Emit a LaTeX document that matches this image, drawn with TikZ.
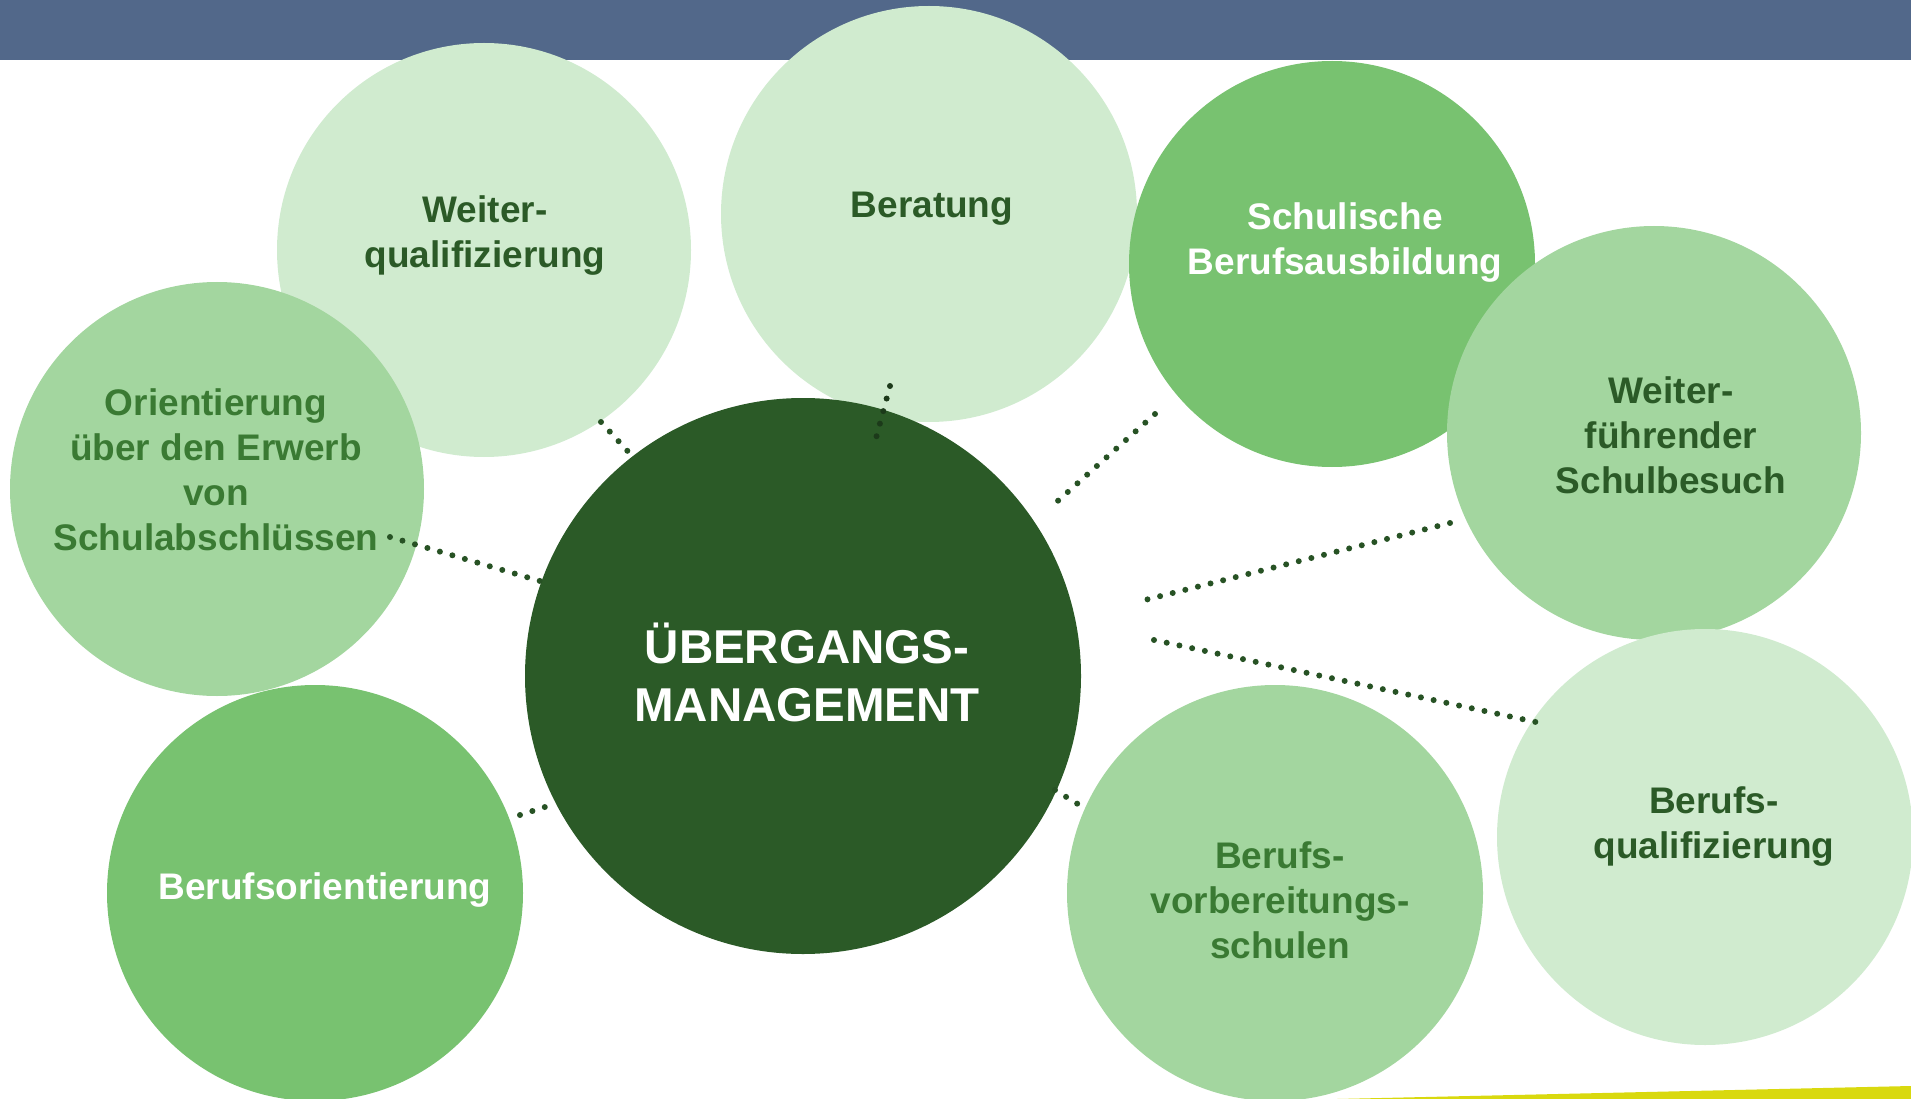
\documentclass[tikz,border=0pt]{standalone}
\usepackage{fontspec}
\setmainfont{Liberation Sans}
\definecolor{barblue}{HTML}{52688A}
\definecolor{gLight}{HTML}{D0EBCF}
\definecolor{gMid}{HTML}{A3D69F}
\definecolor{gStrong}{HTML}{78C270}
\definecolor{gDark}{HTML}{2B5A27}
\definecolor{gDot}{HTML}{275224}
\definecolor{gDotDeep}{HTML}{1C3A1A}
\definecolor{gText}{HTML}{3A7A33}
\definecolor{yline}{HTML}{D9D90F}
\begin{document}
\begin{tikzpicture}[x=1pt,y=-1pt,
  circ/.style={circle, draw=none, inner sep=0pt},
  txt/.style={align=center, font=\fontsize{37}{45}\selectfont\bfseries, inner sep=0pt},
  bigtxt/.style={align=center, font=\fontsize{47.5}{58}\selectfont\bfseries, inner sep=0pt},
  dotline/.style={draw=gDot, line width=6pt, line cap=round, dash pattern=on 0pt off 13pt}]
\useasboundingbox (0,0) rectangle (1911,1099);
\fill[barblue] (0,0) rectangle (1911,60);
\fill[yline] (1337,1099) -- (1911,1086) -- (1911,1099) -- cycle;
% circles
\node[circ, fill=gLight, minimum size=414pt] (wq) at (484,250) {};
\node[circ, fill=gMid, minimum size=414pt] (or) at (217,489) {};
\node[circ, fill=gStrong, minimum size=416pt] (bo) at (315,893) {};
\node[circ, fill=gLight, minimum size=416pt] (be) at (929,214) {};
\node[circ, fill=gDark, minimum size=556pt] (um) at (803,676) {};
\node[circ, fill=gStrong, minimum size=406pt] (sb) at (1332,264) {};
\node[circ, fill=gMid, minimum size=414pt] (ws) at (1654,433) {};
\node[circ, fill=gLight, minimum size=416pt] (bq) at (1705,837) {};
\node[circ, fill=gMid, minimum size=416pt] (bv) at (1275,893) {};
% texts
\node[txt, text=gDark] (wq-t) at (485,236) {Weiter-\\qualifizierung};
\node[txt, text=gText] (or-t) at (216,470) {Orientierung\\über den Erwerb\\von\\Schulabschlüssen};
\node[txt, text=white] (bo-t) at (325,890) {Berufsorientierung};
\node[txt, text=gDark] (be-t) at (932,209) {Beratung};
\node[bigtxt, text=white] (um-t) at (807,672) {ÜBERGANGS-\\MANAGEMENT};
\node[txt, text=white] (sb-t) at (1345,243) {Schulische\\Berufsausbildung};
\node[txt, text=gDark] (ws-t) at (1671,435) {Weiter-\\führender\\Schulbesuch};
\node[txt, text=gDark] (bq-t) at (1714,827) {Berufs-\\qualifizierung};
\node[txt, text=gText] (bv-t) at (1280,900) {Berufs-\\vorbereitungs-\\schulen};
% connector end points
\coordinate (l1a) at (601,422); \coordinate (l1b) at (633,457);
\coordinate (l2a) at (890,386); \coordinate (l2b) at (875,442);
\coordinate (l3a) at (1155,414); \coordinate (l3b) at (1051,507);
\coordinate (l4a) at (390,537); \coordinate (l4b) at (540,581);
\coordinate (l5a) at (1450,523); \coordinate (l5b) at (1141,601);
\coordinate (l6a) at (1154,640); \coordinate (l6b) at (1545,724);
\coordinate (l7a) at (1055,790); \coordinate (l7b) at (1081,806);
\coordinate (l8a) at (520,815); \coordinate (l8b) at (548,806);
\draw[dotline] (l1a) -- (l1b);
\draw[dotline, draw=gDotDeep] (l2a) -- (l2b);
\draw[dotline] (l3a) -- (l3b);
\draw[dotline] (l4a) -- (l4b);
\draw[dotline] (l5a) -- (l5b);
\draw[dotline] (l6a) -- (l6b);
\draw[dotline] (l7a) -- (l7b);
\draw[dotline] (l8a) -- (l8b);
\end{tikzpicture}
\end{document}
